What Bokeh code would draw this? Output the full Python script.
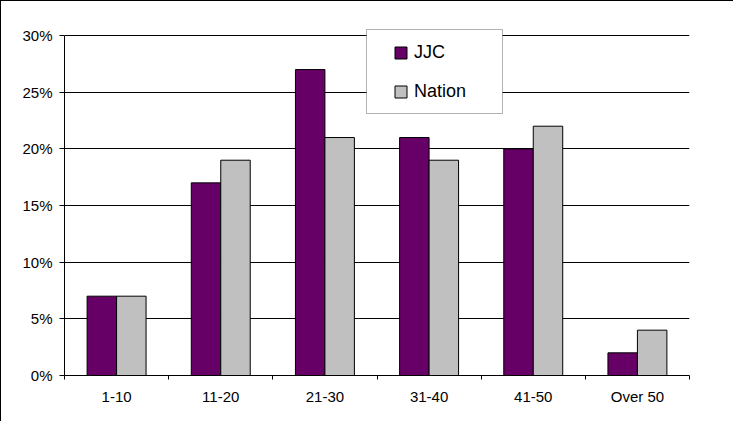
import numpy as np
from bokeh.plotting import figure
from bokeh.models import (Range1d, FixedTicker, PrintfTickFormatter, Legend, LegendItem,
                          BoxAnnotation, ColumnDataSource)
from bokeh.embed import file_html
from bokeh.resources import INLINE

categories = ["1-10", "11-20", "21-30", "31-40", "41-50", "Over 50"]
jjc = [7, 17, 27, 21, 20, 2]
nation = [7, 19, 21, 19, 22, 4]
y_ticks = [0, 5, 10, 15, 20, 25, 30]

centers = np.arange(len(categories)) + 0.5
bar_w = 0.283
off = 0.1415

src = ColumnDataSource(dict(x_j=centers - off, x_n=centers + off, jjc=jjc, nation=nation))

W, H = 733, 421
p = figure(width=W, height=H, output_backend="svg", toolbar_location=None,
           x_range=Range1d(0, len(categories)), y_range=Range1d(0, 30.8),
           min_border_left=63, min_border_top=25, min_border_right=W - 688,
           min_border_bottom=H - 374)
p.styles = {"border-left": "1px solid black", "border-top": "1px solid black"}
p.outline_line_color = None
p.background_fill_color = "white"
p.border_fill_color = "white"

r1 = p.vbar(x="x_j", top="jjc", width=bar_w, bottom=0, source=src,
            fill_color="#660066", line_color="black", line_width=1)
r2 = p.vbar(x="x_n", top="nation", width=bar_w, bottom=0, source=src,
            fill_color="#C0C0C0", line_color="black", line_width=1)

# x axis
xa = p.xaxis[0]
xa.ticker = FixedTicker(ticks=list(centers), minor_ticks=list(range(len(categories) + 1)))
xa.major_label_overrides = {float(c): lab for c, lab in zip(centers, categories)}
xa.major_tick_line_color = None
xa.major_tick_out = 0
xa.major_tick_in = 0
xa.minor_tick_out = 4
xa.minor_tick_in = 0
xa.minor_tick_line_color = "black"
xa.axis_line_color = "black"
xa.major_label_standoff = 8
xa.major_label_text_font = "Liberation Sans"
xa.major_label_text_font_size = "15px"
xa.major_label_text_color = "black"

ya = p.yaxis[0]
ya.ticker = FixedTicker(ticks=y_ticks)
ya.formatter = PrintfTickFormatter(format="%d%%")
ya.bounds = (0, 30)
ya.major_tick_out = 5
ya.major_tick_in = 0
ya.minor_tick_line_color = None
ya.axis_line_color = "black"
ya.major_tick_line_color = "black"
ya.major_label_standoff = 7
ya.major_label_text_font = "Liberation Sans"
ya.major_label_text_font_size = "15px"
ya.major_label_text_color = "black"

p.xgrid.grid_line_color = None
p.ygrid.grid_line_color = "black"
p.ygrid.grid_line_width = 1

# legend frame
box = BoxAnnotation(left=302, right=438, top=346, bottom=262,
                    left_units="screen", right_units="screen",
                    top_units="screen", bottom_units="screen",
                    fill_color="white", fill_alpha=1.0,
                    line_color="black", line_width=1)
p.add_layout(box)

legend = Legend(items=[LegendItem(label="JJC", renderers=[r1]),
                       LegendItem(label="Nation", renderers=[r2])],
                location=(329, 273), padding=0, spacing=18,
                glyph_width=15, glyph_height=15, label_standoff=6,
                label_text_font="Liberation Sans", label_text_font_size="18px",
                label_text_color="black", label_height=21,
                border_line_color=None, background_fill_alpha=0)
p.add_layout(legend)

open("out.html", "w").write(file_html(p, INLINE))
